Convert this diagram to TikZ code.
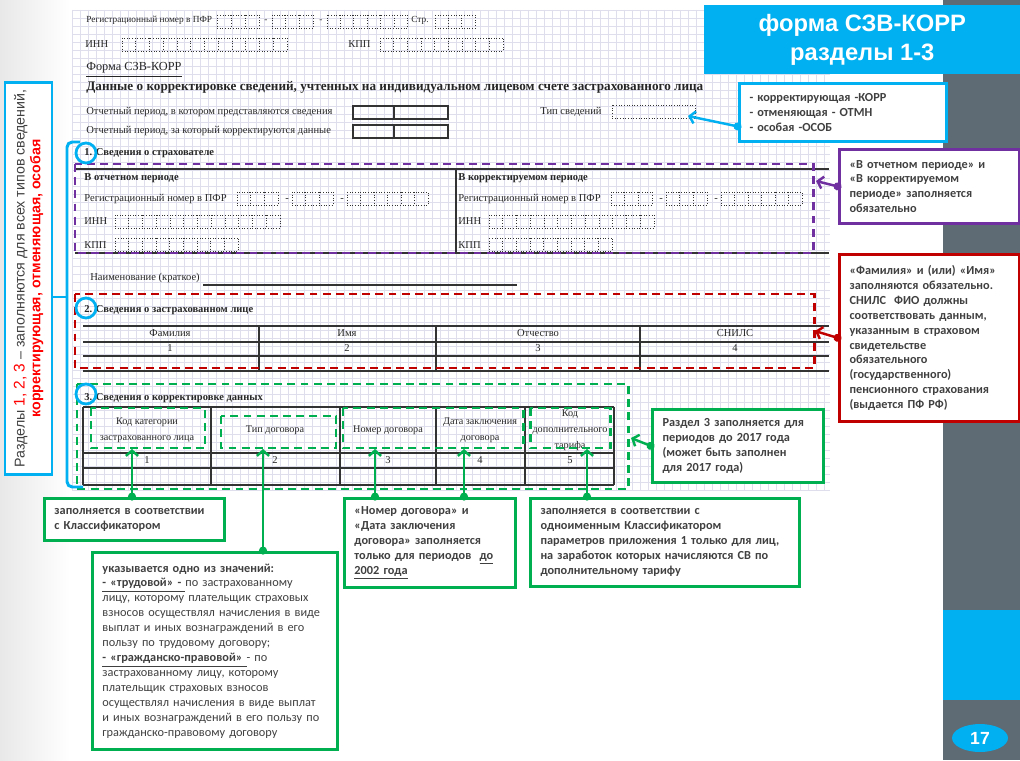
\documentclass[tikz,border=0pt]{standalone}
\usepackage{fontspec}
\setmainfont{Liberation Serif}
\newfontfamily\calfont{Carlito}
\newfontfamily\arialfont{Liberation Sans}
\usepackage{tikz}
\usetikzlibrary{arrows.meta,shapes.geometric}
\definecolor{skyblue}{RGB}{0,176,240}
\definecolor{formviolet}{RGB}{112,48,160}
\definecolor{formred}{RGB}{192,0,0}
\definecolor{formgreen}{RGB}{0,176,80}
\definecolor{slategray}{RGB}{94,106,116}
\definecolor{notegray}{RGB}{64,64,64}
\definecolor{gridlilac}{RGB}{222,222,236}

% row of dotted cells: x, y, number of cells, cell width
\newcommand{\cellrow}[4]{%
  \draw[cell] (#1,#2) rectangle ({#1+#3*#4},{#2+13});
  \foreach \k in {2,...,#3}
    \draw[cell] ({#1+(\k-1)*#4},#2) -- ++(0,13);
}

\begin{document}
\begin{tikzpicture}[x=0.02cm,y=-0.02cm,
                    >={Straight Barb[length=3pt,width=7pt]},
                    note/.style={draw=#1, line width=1.7pt, fill=white,
                      anchor=north west, align=left, inner xsep=0.2cm,
                      inner ysep=0pt, text=notegray,
                      font=\calfont\bfseries\fontsize{7}{8.5}\selectfont},
                    dashbox/.style={draw=#1, line width=1.7pt,
                      dash pattern=on 4.5pt off 3pt},
                    link/.style={draw=#1, line width=1.4pt,
                      {Circle[length=4.5pt]}->, shorten <=-2pt}]
  \tikzstyle{gridline} = [gridlilac, line width=0.4pt]
  \tikzstyle{cell} = [black!80, line width=0.5pt, densely dotted]
  \tikzstyle{tabline} = [black!80, line width=0.6pt]
  \tikzstyle{form} = [anchor=base west, inner sep=0pt, text=black!85,
    font=\fontsize{6}{7}\selectfont]
  \tikzstyle{formb} = [form, font=\bfseries\fontsize{6}{7}\selectfont]
  \tikzstyle{tinyform} = [form, font=\fontsize{5.3}{6}\selectfont]
  \tikzstyle{colhead} = [anchor=base, inner sep=0pt, text=black!85,
    font=\fontsize{6}{7}\selectfont]
  \tikzstyle{colcell} = [colhead, anchor=center, align=center,
    font=\fontsize{5.8}{9}\selectfont]
  \tikzstyle{ring} = [skyblue, line width=1.6pt]
  \tikzstyle{bracket} = [skyblue, line width=1.7pt, rounded corners=3pt]

  \useasboundingbox (0,0) rectangle (1020,760);
  \fill[white] (0,0) rectangle (1020,760);
  \fill[left color=black!9, right color=white] (0,0) rectangle (70,760);

  % squared paper under the form
  \foreach \gx in {72,80,...,830}
    \draw[gridline] (\gx,10) -- (\gx,490);
  \foreach \gy in {10,18,...,490}
    \draw[gridline] (72,\gy) -- (830,\gy);

  % form head
  \node[tinyform] (h1) at (86,23) {Регистрационный номер в ПФР};
  \cellrow{217}{15}{3}{14.3}
  \node[tinyform] (h1a) at (264,23) {-};
  \cellrow{272}{15}{3}{13.7}
  \node[tinyform] (h1b) at (319,23) {-};
  \cellrow{327}{15}{6}{13.4}
  \node[tinyform] (h1c) at (411,23) {Стр.};
  \cellrow{435}{15}{3}{13.4}
  \node[form] (h2) at (85,48) {ИНН};
  \cellrow{122}{38}{12}{13.75}
  \node[form] (h3) at (348,48) {КПП};
  \cellrow{380}{38}{9}{13.7}
  \node[form, font=\fontsize{7}{8}\selectfont] (h4) at (86,71)
    {\underline{Форма СЗВ-КОРР}};
  \node[formb, font=\bfseries\fontsize{7.5}{8}\selectfont] (h5) at (86,91)
    {Данные о корректировке сведений, учтенных на индивидуальном лицевом счете застрахованного лица};
  \node[form] (h6) at (86,115) {Отчетный период, в котором представляются сведения};
  \draw[tabline] (353,106) rectangle (448,119) (394,106) -- (394,119);
  \node[form] (h7) at (86,134) {Отчетный период, за который корректируются данные};
  \draw[tabline] (353,125) rectangle (448,138) (394,125) -- (394,138);
  \node[form] (h8) at (540,115) {Тип сведений};
  \draw[cell] (612,105) rectangle (695,118);

  % section 1
  \node[formb] (s1) at (84,156) {1. Сведения о страхователе};
  \draw[tabline] (75,169) -- (829,169) (75,253) -- (829,253) (456,169) -- (456,253);
  \foreach \dx/\per in {0/В отчетном периоде, 374/В корректируемом периоде} {
    \node[formb] (per\dx) at (84+\dx,181) {\per};
    \node[form] (reg\dx) at (84+\dx,201) {Регистрационный номер в ПФР};
    \cellrow{237+\dx}{192}{3}{13.7}
    \node[form] (d\dx) at (285+\dx,201) {-};
    \cellrow{292+\dx}{192}{3}{13.7}
    \node[form] (e\dx) at (340+\dx,201) {-};
    \cellrow{347+\dx}{192}{6}{13.5}
    \node[form] (inn\dx) at (84+\dx,224) {ИНН};
    \cellrow{115+\dx}{215}{12}{13.75}
    \node[form] (kpp\dx) at (84+\dx,248) {КПП};
    \cellrow{115+\dx}{238}{9}{13.7}
  }
  \node[form] (s1n) at (90,280) {Наименование (краткое)};
  \draw[tabline] (203,285) -- (517,285);

  % section 2
  \node[formb] (s2) at (84,312) {2. Сведения о застрахованном лице};
  \foreach \ry in {326,342,356,371}
    \draw[tabline] (83,\ry) -- (829,\ry);
  \foreach \cx in {259,436,640}
    \draw[tabline] (\cx,326) -- (\cx,371);
  \foreach \cx/\head/\num in {170/Фамилия/1, 347/Имя/2, 538/Отчество/3, 735/СНИЛС/4} {
    \node[colhead] (f\num) at (\cx,336.5) {\head};
    \node[colhead] (g\num) at (\cx,351.5) {\num};
  }

  % section 3
  \node[formb] (s3) at (84,400) {3. Сведения о корректировке данных};
  \foreach \ry in {407,453,468,485}
    \draw[tabline] (83,\ry) -- (614,\ry);
  \foreach \cx in {83,211,340,436,525,614}
    \draw[tabline] (\cx,407) -- (\cx,485);
  \node[colcell] (k1) at (147,430) {Код категории\\застрахованного лица};
  \node[colcell] (k2) at (275,430) {Тип договора};
  \node[colcell] (k3) at (388,430) {Номер договора};
  \node[colcell] (k4) at (480,430) {Дата заключения\\договора};
  \node[colcell] (k5) at (570,430) {Код\\дополнительного\\тарифа};
  \foreach \cx/\num in {147/1, 275/2, 388/3, 480/4, 570/5}
    \node[colhead] (m\num) at (\cx,463.5) {\num};

  % marked areas
  \draw[dashbox=formviolet] (75,164) rectangle (813,253);
  \draw[dashbox=formred] (75,294) rectangle (814,368);
  \draw[dashbox=formgreen] (77,384) rectangle (628,489);
  \draw[dashbox=formgreen] (91,408) rectangle (205,448);
  \draw[dashbox=formgreen] (221,416) rectangle (336,448);
  \draw[dashbox=formgreen] (343,408) rectangle (523,448);
  \draw[dashbox=formgreen] (530,408) rectangle (610,448);
  \foreach \ry in {153,308,394}
    \draw[ring] (86,\ry) circle[radius=0.2cm];

  % side label and bracket
  \node[draw=skyblue, line width=1.7pt, fill=white, rotate=90,
        minimum width=7.86cm, minimum height=0.94cm, inner sep=0pt,
        align=center, text=notegray,
        font=\arialfont\fontsize{8.1}{9}\selectfont] (23) at (28.5,278.5)
    {Разделы {\color{red}\fontsize{8.8}{9}\selectfont 1, 2, 3} – заполняются для всех типов сведений,\\
     {\color{red}\bfseries корректирующая, отменяющая, особая}};
  \draw[bracket] (80,142) -- (67,142) -- (67,487) -- (83,487);
  \draw[bracket] (67,297) -- (23.south |- 0,297);

  % slide frame
  \fill[slategray] (943,0) rectangle (1020,760);
  \fill[skyblue] (943,610) rectangle (1020,700);
  \node[fill=skyblue, anchor=north west, minimum width=6.32cm,
        minimum height=1.38cm, inner sep=0pt, align=center, text=white,
        font=\arialfont\bfseries\fontsize{13.5}{17}\selectfont] (21) at (704,5)
    {форма СЗВ-КОРР\\разделы 1-3};
  \node[ellipse, fill=skyblue, minimum width=1.12cm, minimum height=0.56cm,
        inner sep=0pt, text=white,
        font=\arialfont\bfseries\fontsize{10}{12}\selectfont] (22) at (980,738) {17};

  % callouts
  \node[note=skyblue, text width=3.74cm, minimum height=1.16cm] (1) at (738,82)
    {- корректирующая -КОРР\\- отменяющая - ОТМН\\- особая -ОСОБ};
  \node[note=formviolet, text width=3.2cm, minimum height=1.48cm] (2) at (838,148)
    {«В отчетном периоде» и\\«В корректируемом\\периоде» заполняется\\обязательно};
  \node[note=formred, text width=3.2cm, minimum height=3.34cm] (3) at (838,253)
    {«Фамилия» и (или) «Имя»\\заполняются обязательно.\\СНИЛС~~ФИО должны\\соответствовать данным,\\указанным в страховом\\свидетельстве\\обязательного\\(государственного)\\пенсионного страхования\\(выдается ПФ РФ)};
  \node[note=formgreen, text width=3.02cm, minimum height=1.46cm] (4) at (651,408)
    {Раздел 3 заполняется для\\периодов до 2017 года\\(может быть заполнен\\для 2017 года)};
  \node[note=formgreen, text width=3.2cm, minimum height=0.84cm] (5) at (43,497)
    {заполняется в соответствии\\с Классификатором};
  \node[note=formgreen, text width=4.5cm, minimum height=3.94cm,
        font=\calfont\fontsize{7}{8.5}\selectfont] (6) at (91,551)
    {{\bfseries указывается одно из значений:}\\
     \underline{\bfseries - «трудовой» - }по застрахованному\\
     лицу, которому плательщик страховых\\
     взносов осуществлял начисления в виде\\
     выплат и иных вознаграждений в его\\
     пользу по трудовому договору;\\
     \underline{\bfseries - «гражданско-правовой» }- по\\
     застрахованному лицу, которому\\
     плательщик страховых взносов\\
     осуществлял начисления в виде выплат\\
     и иных вознаграждений в его пользу по\\
     гражданско-правовому договору};
  \node[note=formgreen, text width=3.02cm, minimum height=1.78cm] (7) at (343,497)
    {«Номер договора» и\\«Дата заключения\\договора» заполняется\\только для периодов~ \underline{до}\\\underline{2002 года}};
  \node[note=formgreen, text width=4.98cm, minimum height=1.76cm] (8) at (529,497)
    {заполняется в соответствии с\\одноименным Классификатором\\параметров приложения 1 только для лиц,\\на заработок которых начисляются СВ по\\дополнительному тарифу};

  % arrow ends
  \coordinate (11) at (688,116);
  \coordinate (12) at (816,181);
  \coordinate (13) at (815,331);
  \coordinate (14) at (631,438);
  \coordinate (15) at (132,449);
  \coordinate (16) at (263,449);
  \coordinate (17) at (375,449);
  \coordinate (18) at (464,449);
  \coordinate (19) at (587,449);

  \draw[link=skyblue] ([yshift=-0.28cm]1.west) -- (11);
  \draw[link=formviolet] (2.west) -- (12);
  \draw[link=formred] (3.west) -- (13);
  \draw[link=formgreen] (4.west) -- (14);
  \draw[link=formgreen] (5.north -| 15) -- (15);
  \draw[link=formgreen] (6.north -| 16) -- (16);
  \draw[link=formgreen] (7.north -| 17) -- (17);
  \draw[link=formgreen] (7.north -| 18) -- (18);
  \draw[link=formgreen] (8.north -| 19) -- (19);
\end{tikzpicture}
\end{document}
